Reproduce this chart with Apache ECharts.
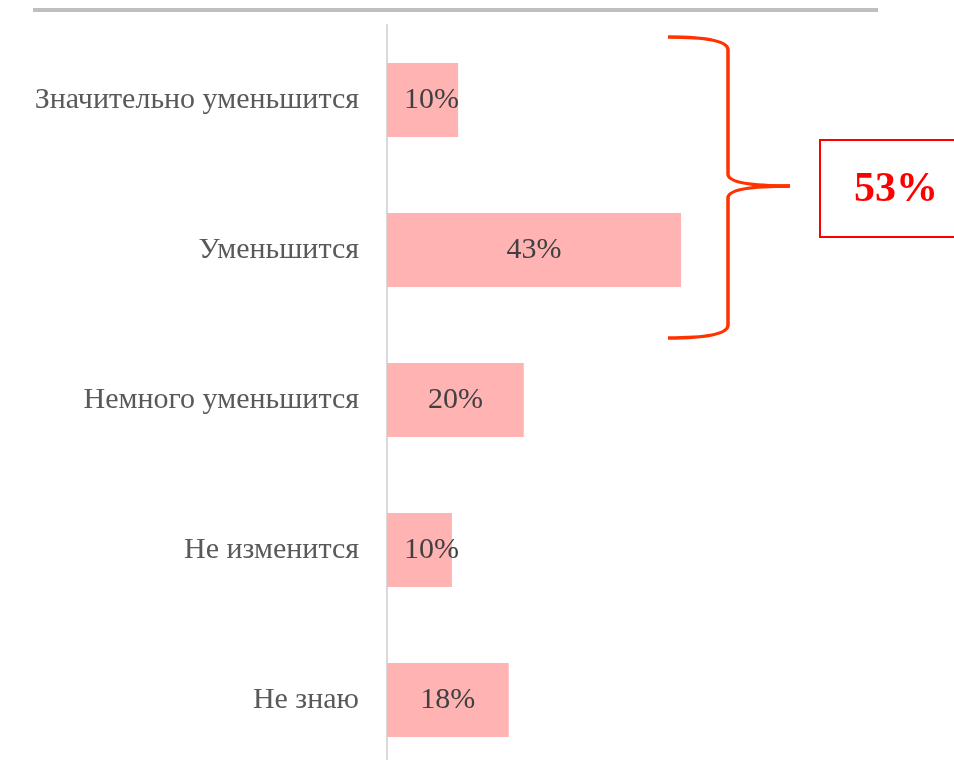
<!DOCTYPE html>
<html>
<head>
<meta charset="utf-8">
<script src="https://cdn.jsdelivr.net/npm/echarts@6/dist/echarts.min.js"></script>
<style>
    html, body { margin: 0; padding: 0; background: #fff; }
    #chart { width: 954px; height: 760px; }
</style>
</head>
<body>
<div id="chart"></div>
<script>
    // answers, top to bottom
    var categories = ['Значительно уменьшится', 'Уменьшится', 'Немного уменьшится', 'Не изменится', 'Не знаю'];
    var shares = [10.4, 43, 20, 9.5, 17.8];
    var groupTotal = '53%';

    var font = '"Liberation Serif", "DejaVu Serif", serif';
    var braceStyle = { fill: null, stroke: '#ff3300', lineWidth: 3.5 };

    var chart = echarts.init(document.getElementById('chart'));

    var barData = shares.map(function (v) {
        var item = { value: v };
        // narrow bars: label sits near the left edge like in the original
        if (v < 15) {
            item.label = { position: 'insideLeft', distance: 17 };
        }
        return item;
    });

    chart.setOption({
        animation: false,
        grid: { left: 387, right: 20, top: 25, height: 750, containLabel: false, outerBoundsMode: 'none' },
        xAxis: {
            type: 'value',
            min: 0,
            max: 80,
            show: false
        },
        yAxis: {
            type: 'category',
            inverse: true,
            data: categories,
            axisLine: { show: true, lineStyle: { color: '#d9d9d9', width: 2 } },
            axisTick: { show: false },
            axisLabel: {
                color: '#595959',
                fontFamily: font,
                fontSize: 30,
                margin: 28
            }
        },
        series: [
            {
                type: 'bar',
                data: barData,
                barWidth: 74,
                itemStyle: { color: '#ffb3b3' },
                label: {
                    show: true,
                    position: 'inside',
                    color: '#404040',
                    fontFamily: font,
                    fontSize: 30,
                    formatter: function (p) { return Math.round(p.value) + '%'; }
                }
            }
        ],
        graphic: [
            {
                type: 'line',
                shape: { x1: 33, y1: 10, x2: 878, y2: 10 },
                style: { stroke: '#bfbfbf', lineWidth: 4 }
            },
            // curly brace around the first two bars
            { type: 'bezierCurve', shape: { x1: 668, y1: 37, cpx1: 728, cpy1: 37, x2: 728, y2: 50 }, style: braceStyle },
            { type: 'line', shape: { x1: 728, y1: 50, x2: 728, y2: 174 }, style: braceStyle },
            { type: 'bezierCurve', shape: { x1: 728, y1: 174, cpx1: 728, cpy1: 186, x2: 790, y2: 186 }, style: braceStyle },
            { type: 'bezierCurve', shape: { x1: 790, y1: 186, cpx1: 728, cpy1: 186, x2: 728, y2: 198 }, style: braceStyle },
            { type: 'line', shape: { x1: 728, y1: 198, x2: 728, y2: 325 }, style: braceStyle },
            { type: 'bezierCurve', shape: { x1: 728, y1: 325, cpx1: 728, cpy1: 338, x2: 668, y2: 338 }, style: braceStyle },
            {
                type: 'rect',
                shape: { x: 820, y: 140, width: 150, height: 97 },
                style: { fill: '#fff', stroke: '#ff0000', lineWidth: 2 }
            },
            {
                type: 'text',
                x: 896,
                y: 190,
                style: {
                    text: groupTotal,
                    fill: '#ff0000',
                    font: 'bold 42px ' + font,
                    align: 'center',
                    verticalAlign: 'middle'
                }
            }
        ]
    });
</script>
</body>
</html>
